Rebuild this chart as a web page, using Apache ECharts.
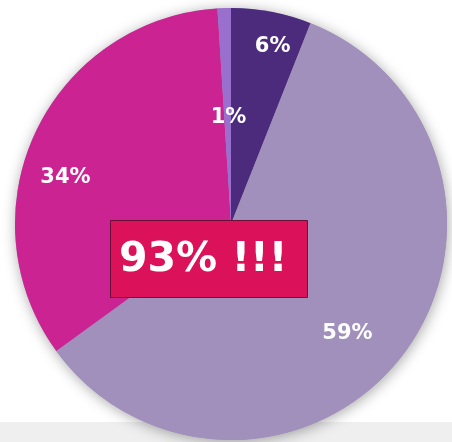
<!DOCTYPE html>
<html>
<head>
<meta charset="utf-8">
<script src="https://cdn.jsdelivr.net/npm/echarts@6/dist/echarts.min.js"></script>
<style>
	html,body{margin:0;padding:0;background:#fff;}
	#chart{width:452px;height:442px;}
</style>
</head>
<body>
<div id="chart"></div>
<script>
	// 数据
	var names = ['6%', '59%', '34%', '1%'];
	var values = [6, 59, 34, 1];
	var colors = ['#4c2b7d', '#a190bb', '#cc2392', '#9a70cf'];
	var headline = '93% !!!';

	// 布局
	var cx = 231, cy = 224, R = 216;
	var labelFrac = [0.84, 0.72, 0.785, 0.49];	//标签离圆心的比例
	var labelTurn = [2.3, 5, -9, 0.5];			//标签角度微调(度)

	var total = values.reduce(function(a, b){ return a + b; }, 0);
	var acc = 0;
	var pieData = values.map(function(v, i){
		var mid = (acc + v / 2) / total * 360;
		acc += v;
		var ang = (mid + labelTurn[i]) * Math.PI / 180;
		var midRad = mid * Math.PI / 180;
		// 默认inside位置在半径一半处
		var defX = R / 2 * Math.sin(midRad), defY = -R / 2 * Math.cos(midRad);
		var tx = R * labelFrac[i] * Math.sin(ang), ty = -R * labelFrac[i] * Math.cos(ang);
		return {
			name: names[i],
			value: v,
			itemStyle: { color: colors[i] },
			label: { offset: [tx - defX, ty - defY + 2] }
		};
	});

	var chart = echarts.init(document.getElementById('chart'));
	chart.setOption({
		animation: false,
		graphic: [{
			type: 'rect',
			z: -10,
			shape: { x: 0, y: 422, width: 452, height: 20 },
			style: { fill: '#efefef' }
		}, {
			type: 'rect',
			z: 100,
			shape: { x: 110.5, y: 220.5, width: 197, height: 77 },
			style: { fill: '#db1259', stroke: '#6a0f36', lineWidth: 1 }
		}, {
			type: 'text',
			z: 101,
			x: 119,
			y: 260,
			style: {
				text: headline,
				fill: '#ffffff',
				fontSize: 41,
				fontWeight: 'bold',
				fontFamily: 'DejaVu Sans',
				verticalAlign: 'middle'
			}
		}],
		series: [{
			// 阴影底盘
			type: 'pie',
			silent: true,
			center: [cx, cy],
			radius: R,
			z: 1,
			label: { show: false },
			labelLine: { show: false },
			itemStyle: {
				color: '#a190bb',
				borderWidth: 0,
				shadowBlur: 14,
				shadowColor: 'rgba(0,0,0,0.35)',
				shadowOffsetX: 1,
				shadowOffsetY: 2
			},
			data: [{ value: 1 }]
		}, {
			type: 'pie',
			silent: true,
			center: [cx, cy],
			radius: R,
			z: 2,
			startAngle: 90,
			clockwise: true,
			avoidLabelOverlap: false,
			itemStyle: { borderWidth: 0 },
			label: {
				show: true,
				position: 'inside',
				formatter: '{b}',
				color: '#ffffff',
				fontSize: 21,
				fontWeight: 'bold',
				fontFamily: 'DejaVu Sans'
			},
			labelLine: { show: false },
			data: pieData
		}]
	});
</script>
</body>
</html>
